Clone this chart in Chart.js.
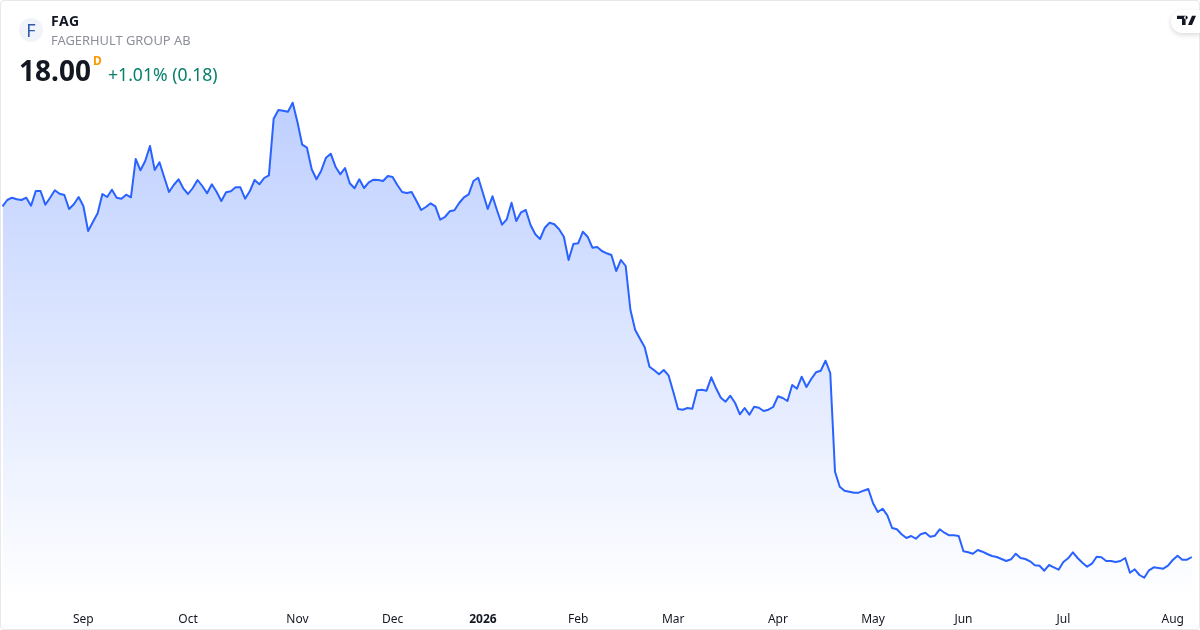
<!DOCTYPE html>
<html>
<head>
<meta charset="utf-8">
<title>FAG</title>
<script src="https://cdn.jsdelivr.net/npm/chart.js@4"></script>
<style>
  html, body { margin: 0; padding: 0; background: #fff; }
  body { width: 1200px; height: 630px; overflow: hidden; position: relative; font-family: "Noto Sans", sans-serif; }
  #chartBox { position: absolute; left: 0; top: 0; width: 1200px; height: 630px; }
  #frame { position: absolute; left: 0; top: 0; width: 1198px; height: 628px; border: 1px solid #e8e8e8; border-radius: 4px; pointer-events: none; }
  .txt { position: absolute; white-space: nowrap; }
  #logo { position: absolute; left: 19px; top: 18px; width: 24px; height: 24px; border-radius: 50%; background: #f0f3fa; color: #2f5ba8; font-size: 18px; line-height: 24px; text-align: center; }
  #symbol { left: 51px; top: 12px; font-size: 14px; line-height: 18px; font-weight: 700; color: #131722; letter-spacing: 0.6px; }
  #name { left: 51px; top: 31px; font-size: 12.9px; line-height: 18px; color: #8c8f98; }
  #price { left: 19px; top: 51px; font-size: 28px; line-height: 38px; font-weight: 700; color: #131722; }
  #flag { left: 93px; top: 53px; font-size: 12px; line-height: 16px; font-weight: 700; color: #ff9800; }
  #change { left: 108px; top: 62px; font-size: 17.6px; line-height: 24px; color: #08806c; }
  #tvBadge { position: absolute; left: 1171px; top: 10px; width: 29px; height: 23px; background: #fff; border-radius: 12px 0 0 12px; box-shadow: 0 2px 5px rgba(19,23,34,0.16); }
  #tvBadge svg { position: absolute; left: 6px; top: 5px; }
</style>
</head>
<body>
<div id="chartBox"><canvas id="myChart" width="1200" height="630"></canvas></div>
<div id="frame"></div>
<div id="logo">F</div>
<div class="txt" id="symbol">FAG</div>
<div class="txt" id="name">FAGERHULT GROUP AB</div>
<div class="txt" id="price">18.00</div>
<div class="txt" id="flag">D</div>
<div class="txt" id="change">+1.01% (0.18)</div>
<div id="tvBadge">
  <svg width="19" height="10" viewBox="0 0 19 10"><path d="M0 0.7H8.6V9.9H5V4H0z M8.9 0.7a1.8 1.8 0 1 0 .01 0z M15 0.7H19L15 9.9H11z" fill="#131722"/></svg>
</div>
<script>
var values = [
  53.07, 53.70, 53.93, 53.77, 53.70, 53.93, 53.13, 54.60, 54.60, 53.23,
  53.93, 54.67, 54.33, 54.20, 52.80, 53.27, 54.00, 53.10, 50.60, 51.50,
  52.37, 54.30, 54.00, 54.73, 53.93, 53.83, 54.23, 53.97, 57.80, 56.67,
  57.60, 59.10, 56.70, 57.47, 55.97, 54.50, 55.20, 55.77, 54.87, 54.30,
  54.90, 55.70, 55.10, 54.37, 55.27, 54.53, 53.60, 54.47, 54.57, 54.97,
  54.97, 53.83, 54.60, 55.70, 55.27, 55.90, 56.17, 61.83, 62.70, 62.63,
  62.53, 63.43, 61.50,
  59.23, 58.93, 56.77, 55.77, 56.63, 57.93, 58.33, 57.03, 56.27, 56.90,
  55.37, 54.87, 55.77, 54.90, 55.47, 55.73, 55.70, 55.60, 56.10, 56.00,
  55.20, 54.50, 54.40, 54.50, 53.63, 52.70, 53.00, 53.37, 53.07, 51.73,
  52.00, 52.57, 52.67, 53.40, 53.97, 54.27, 55.60, 55.93, 54.37, 52.80,
  54.07, 52.60, 51.23, 51.77, 53.43, 51.60, 52.47, 52.70, 51.20, 50.27,
  49.80, 50.93, 51.43, 51.27, 50.77, 50.03, 47.70, 49.30, 49.37, 50.53,
  50.03, 48.93, 49.00,
  48.60, 48.37, 48.20, 46.60, 47.70, 47.10, 42.70, 40.70, 39.83, 38.97,
  37.03, 36.67, 36.27, 36.70, 36.17, 34.53, 32.80, 32.73, 32.90, 32.83,
  34.67, 34.73, 34.63, 35.97, 34.87, 33.93, 33.53, 34.13, 33.40, 32.27,
  32.90, 32.23, 33.03, 32.93, 32.60, 32.73, 33.00, 34.07, 33.90, 33.60,
  35.20, 34.83, 36.03, 35.00, 35.80, 36.47, 36.63, 37.63, 36.40, 26.53,
  25.03, 24.63, 24.53, 24.43, 24.43, 24.63, 24.80, 23.37, 22.50, 22.83,
  22.17, 20.90, 20.77,
  20.27, 19.90, 20.10, 19.83, 20.27, 20.43, 20.03, 20.13, 20.77, 20.43,
  20.17, 20.17, 20.10, 18.57, 18.47, 18.33, 18.70, 18.53, 18.30, 18.10,
  18.00, 17.80, 17.60, 17.77, 18.33, 17.90, 17.80, 17.57, 17.17, 17.13,
  16.63, 17.20, 16.97, 16.73, 17.50, 17.87, 18.47, 17.90, 17.43, 17.03,
  17.33, 18.03, 17.97, 17.60, 17.60, 17.50, 17.60, 17.90, 16.43, 16.77,
  16.20, 15.93, 16.67, 16.97, 16.90, 16.83, 17.13, 17.70, 18.13, 17.73,
  17.73, 18.00
];
var tickNames = ['Sep', 'Oct', 'Nov', 'Dec', '2026', 'Feb', 'Mar', 'Apr', 'May', 'Jun', 'Jul', 'Aug'];
var tickSpots = [17, 39, 62, 82, 101, 121, 141, 163, 183, 202, 223, 246];
var priceMin = 13.7;
var priceMax = 73.7;

var labels = values.map(function(v, i) {
  var at = tickSpots.indexOf(i);
  return at >= 0 ? tickNames[at] : '';
});

// area fades out from the highest point down to the time axis
function areaGradient(context) {
  var chart = context.chart;
  if (!chart.chartArea) return 'rgba(41,98,255,0.14)';
  var top = chart.scales.y.getPixelForValue(Math.max.apply(null, values));
  var grad = chart.ctx.createLinearGradient(0, top, 0, chart.chartArea.bottom);
  grad.addColorStop(0, 'rgba(41,98,255,0.3)');
  grad.addColorStop(1, 'rgba(41,98,255,0)');
  return grad;
}

var myChart = new Chart(document.getElementById('myChart'), {
  type: 'line',
  data: {
    labels: labels,
    datasets: [{
      data: values,
      borderColor: '#2962ff',
      borderWidth: 2,
      backgroundColor: areaGradient,
      fill: 'start',
      pointRadius: 0,
      tension: 0,
      borderJoinStyle: 'round'
    }]
  },
  options: {
    responsive: false,
    animation: false,
    layout: { padding: { left: 2.5, right: 8.2, top: 0, bottom: 0 } },
    plugins: { legend: { display: false }, tooltip: { enabled: false } },
    scales: {
      x: {
        offset: false,
        grid: { display: false },
        border: { display: false },
        afterFit: function(scale) {
          scale.height = 30;
          scale.paddingLeft = 0;
          scale.paddingRight = 0;
        },
        ticks: {
          autoSkip: false,
          maxRotation: 0,
          padding: 4,
          color: '#131722',
          font: { family: '"Noto Sans"', size: 12, weight: function(ctx) { return ctx.tick && ctx.tick.label === '2026' ? '700' : '400'; } }
        }
      },
      y: { display: false, min: priceMin, max: priceMax }
    }
  }
});
</script>
</body>
</html>
